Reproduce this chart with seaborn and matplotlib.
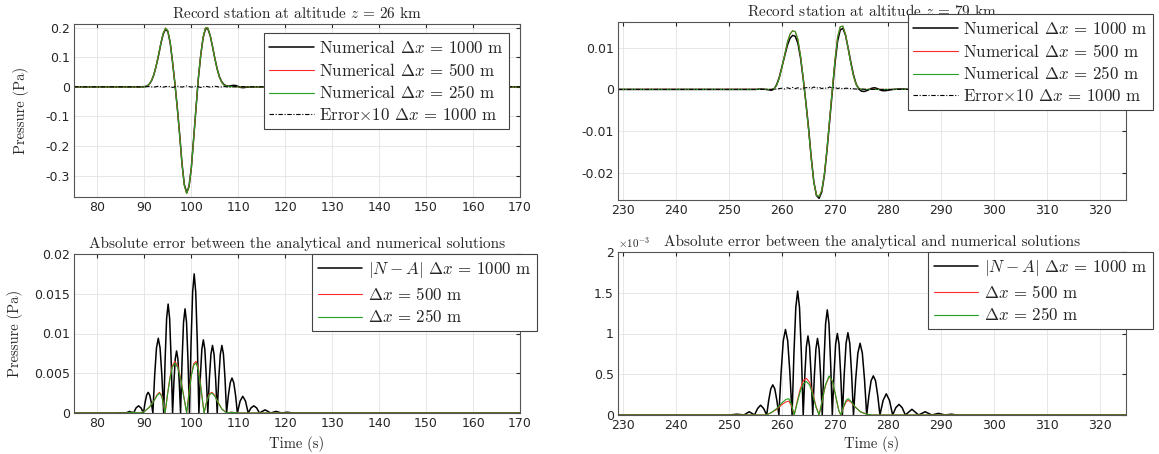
import matplotlib
matplotlib.use("Agg")
import matplotlib.pyplot as plt
from matplotlib.ticker import FuncFormatter
import seaborn as sns

# --- station z = 26 km, pressure records ---
p26_t = [75, 88, 89, 90, 90.5, 91, 91.5, 92, 92.5, 93, 93.5, 94, 94.5, 95, 95.5, 96, 96.5,
         97, 97.5, 98, 98.5, 99, 99.5, 100, 100.5, 101, 101.5, 102, 102.5, 103, 103.5, 104,
         104.5, 105, 105.5, 106, 106.5, 107, 107.5, 108, 108.5, 109, 109.5, 110, 110.5, 111,
         111.5, 112, 113, 170]
p26_dx1000 = [0, 0, 0, 0.0005, 0.002, 0.008, 0.02, 0.04, 0.07, 0.105, 0.145, 0.178, 0.195,
              0.186, 0.147, 0.082, 0.01, -0.07, -0.16, -0.258, -0.33, -0.357, -0.336, -0.272,
              -0.172, -0.07, 0.03, 0.107, 0.165, 0.196, 0.196, 0.173, 0.136, 0.096, 0.06, 0.033,
              0.016, 0.007, 0.003, 0.002, 0.004, 0.005, 0.004, 0.001, -0.002, -0.003, -0.002,
              -0.001, 0, 0]
p26_fine = [0, 0, 0, 0.0005, 0.002, 0.008, 0.021, 0.041, 0.071, 0.107, 0.148, 0.181, 0.198,
            0.189, 0.149, 0.083, 0.01, -0.071, -0.162, -0.26, -0.333, -0.36, -0.338, -0.273,
            -0.172, -0.069, 0.032, 0.109, 0.168, 0.199, 0.199, 0.175, 0.137, 0.096, 0.059, 0.031,
            0.014, 0.005, 0.002, 0.001, 0.001, 0.001, 0, 0, 0, 0, 0, 0, 0, 0]
e26_t = [75, 90, 91, 92, 93, 94, 95, 96, 97, 98, 99, 100, 101, 102, 103, 104, 105, 106, 107,
         108, 110, 112, 170]
e26_x10 = [0, 0, 0.001, -0.001, 0.002, -0.001, 0.002, -0.002, 0.002, -0.001, 0.003, -0.001,
           0.002, -0.002, 0.002, -0.001, 0.002, -0.001, 0.001, -0.001, 0.001, 0, 0]

# --- station z = 79 km, pressure records ---
p79_t = [229, 255, 256, 257, 257.5, 258, 258.5, 259, 259.5, 260, 260.5, 261, 261.5, 262, 262.5,
         263, 263.5, 264, 264.5, 265, 265.5, 266, 266.5, 267, 267.5, 268, 268.5, 269, 269.5,
         270, 270.5, 271, 271.5, 272, 272.5, 273, 273.5, 274, 274.5, 275, 275.5, 276, 276.5,
         277, 277.5, 278, 278.5, 279, 279.5, 280, 281, 282, 283, 284, 325]
p79_dx1000 = [0, 0, 0.0001, 0, -0.0001, -0.0002, 0.0001, 0.0012, 0.003, 0.0055, 0.008, 0.0105,
              0.0122, 0.0129, 0.0127, 0.011, 0.0075, 0.0025, -0.003, -0.009, -0.016, -0.022,
              -0.0253, -0.026, -0.0245, -0.0205, -0.0145, -0.0075, -0.0005, 0.0062, 0.0115,
              0.0142, 0.0146, 0.0129, 0.0098, 0.0065, 0.0035, 0.0013, 0.0001, -0.0004, -0.0005,
              -0.0003, 0, 0.0003, 0.0004, 0.0002, -0.0001, -0.0003, -0.0003, -0.0002, 0, 0.0001,
              0.0001, 0, 0]
p79_fine = [0, 0, 0, 0, 0, 0, 0.0002, 0.001, 0.0028, 0.0054, 0.0083, 0.0112, 0.0132, 0.014,
            0.0138, 0.0119, 0.008, 0.0027, -0.0032, -0.0095, -0.0163, -0.0221, -0.0252, -0.0256,
            -0.0241, -0.0202, -0.0141, -0.007, 0.0001, 0.007, 0.0125, 0.015, 0.0151, 0.0131,
            0.0098, 0.0062, 0.0032, 0.0012, 0.0003, 0, 0, 0, 0, 0, 0, 0, 0, 0, 0, 0, 0, 0, 0,
            0, 0]
e79_t = [229, 258, 259, 260, 260.5, 261, 261.5, 262, 262.5, 263, 263.5, 264, 265, 265.5, 266,
         266.5, 267, 267.5, 268, 268.5, 269, 269.5, 270, 270.5, 271, 271.5, 272, 273, 274, 275,
         276, 325]
e79_x10 = [0, 0, 0.0001, 0.0003, 0.0001, 0.0004, 0.0002, 0.0005, 0.0002, 0.0004, 0.0001, 0.0003,
           0.0005, 0.0002, 0.0006, 0.0003, 0.0005, 0.0002, 0.0004, 0.0002, 0.0006, 0.0003,
           0.0005, 0.0002, 0.0004, 0.0001, 0.0003, 0.0002, 0.0001, 0.0001, 0, 0]

# --- absolute error |N - A|, z = 26 km ---
a26_t = [75, 84, 85, 86, 86.85, 87.7,
         88.22, 88.75, 89.28, 89.8,
         90.13, 90.47, 90.8, 91.13, 91.47, 91.8,
         92.18, 92.57, 92.95, 93.33, 93.72, 94.1,
         94.42, 94.73, 95.05, 95.37, 95.68, 96.0,
         96.28, 96.57, 96.85, 97.13, 97.42, 97.7,
         98.02, 98.33, 98.65, 98.97, 99.28, 99.6,
         99.93, 100.27, 100.6, 100.93, 101.27, 101.6,
         101.92, 102.23, 102.55, 102.87, 103.18, 103.5,
         103.83, 104.17, 104.5, 104.83, 105.17, 105.5,
         105.83, 106.17, 106.5, 106.83, 107.17, 107.5,
         107.88, 108.27, 108.65, 109.03, 109.42, 109.8,
         110.38, 110.95, 111.53, 112.1,
         112.7, 113.3, 113.9, 114.5,
         115.7, 116.9, 118.05, 119.2, 120.4, 121.6, 170]
a26_dx1000 = [0, 0, 0.00003, 0, 0.0002, 0,
              0.00064, 0.0009, 0.00064, 0,
              0.0013, 0.00225, 0.0026, 0.00225, 0.0013, 0,
              0.0047, 0.0082, 0.0094, 0.0082, 0.0047, 0,
              0.0069, 0.0119, 0.0137, 0.0119, 0.0069, 0,
              0.0039, 0.0068, 0.0078, 0.0068, 0.0039, 0,
              0.0066, 0.0114, 0.0131, 0.0114, 0.0066, 0,
              0.0088, 0.0152, 0.0175, 0.0152, 0.0088, 0,
              0.0046, 0.008, 0.0092, 0.008, 0.0046, 0,
              0.0043, 0.0074, 0.0085, 0.0074, 0.0043, 0,
              0.0043, 0.0074, 0.0085, 0.0074, 0.0043, 0,
              0.0022, 0.0038, 0.0044, 0.0038, 0.0022, 0,
              0.0015, 0.0021, 0.0015, 0,
              0.00064, 0.0009, 0.00064, 0,
              0.0004, 0, 0.0002, 0, 0.0001, 0, 0]
a26_tf = [75, 86, 87.5, 89, 90, 91, 92, 92.7, 93.2, 93.7, 94.4,
          94.9, 95.4, 95.9, 96.5, 97.1, 97.7, 98.3, 99.0,
          99.5, 100.0, 100.5, 101.0, 101.5, 102.0, 102.7,
          103.2, 103.8, 104.4, 105.0, 105.7, 106.5, 107.5, 108.5, 110, 170]
a26_dx500 = [0, 0, 0.0001, 0, 0.0002, 0.0007, 0.0015, 0.0023, 0.0026, 0.0022, 0,
             0.0023, 0.0043, 0.0059, 0.0065, 0.0059, 0.0044, 0.0024, 0,
             0.0026, 0.0048, 0.0062, 0.0065, 0.0056, 0.0034, 0,
             0.0013, 0.0024, 0.0026, 0.0022, 0.0013, 0.0005, 0, 0.0001, 0, 0]
a26_dx250 = [0, 0, 0.0001, 0, 0.0002, 0.0007, 0.0015, 0.0022, 0.0025, 0.0021, 0,
             0.0022, 0.0042, 0.0057, 0.0063, 0.0057, 0.0043, 0.0023, 0,
             0.0025, 0.0047, 0.006, 0.0063, 0.0054, 0.0033, 0,
             0.0013, 0.0023, 0.0025, 0.0021, 0.0013, 0.0005, 0, 0.0001, 0, 0]

# --- absolute error |N - A|, z = 79 km ---
a79_t = [229, 250, 251.5, 252.8, 253.8, 254.8,
         255.38, 255.95, 256.52, 257.1,
         257.48, 257.87, 258.25, 258.63, 259.02, 259.4,
         259.82, 260.23, 260.65, 261.07, 261.48, 261.9,
         262.25, 262.6, 262.95, 263.3, 263.65, 264.0,
         264.3, 264.6, 264.9, 265.2, 265.5, 265.8,
         266.1, 266.4, 266.7, 267.0, 267.3, 267.6,
         267.92, 268.23, 268.55, 268.87, 269.18, 269.5,
         269.82, 270.13, 270.45, 270.77, 271.08, 271.4,
         271.75, 272.1, 272.45, 272.8, 273.15, 273.5,
         273.92, 274.33, 274.75, 275.17, 275.58, 276.0,
         276.42, 276.83, 277.25, 277.67, 278.08, 278.5,
         279.1, 279.7, 280.3, 280.9,
         281.5, 282.1, 282.7, 283.3,
         284.55, 285.8, 287.05, 288.3, 289.55, 290.8, 292, 293, 325]
a79_dx1000 = [0, 0, 0.00001, 0, 0.00004, 0,
              0.00008, 0.00012, 0.00008, 0,
              0.00018, 0.00032, 0.00037, 0.00032, 0.00018, 0,
              0.00052, 0.00091, 0.00105, 0.00091, 0.00052, 0,
              0.00076, 0.00132, 0.00152, 0.00132, 0.00076, 0,
              0.00048, 0.00084, 0.00097, 0.00084, 0.00048, 0,
              0.00047, 0.00081, 0.00094, 0.00081, 0.00047, 0,
              0.00064, 0.00112, 0.00129, 0.00112, 0.00064, 0,
              0.0005, 0.00087, 0.001, 0.00087, 0.0005, 0,
              0.0005, 0.00088, 0.00101, 0.00088, 0.0005, 0,
              0.00044, 0.00076, 0.00088, 0.00076, 0.00044, 0,
              0.00024, 0.00042, 0.00048, 0.00042, 0.00024, 0,
              0.00018, 0.00026, 0.00018, 0,
              0.00009, 0.00013, 0.00009, 0,
              0.00007, 0, 0.00004, 0, 0.00002, 0, 0.00001, 0, 0]
a79_tf = [229, 257, 258, 259, 260, 260.7, 261.3, 261.8, 262.3,
          262.8, 263.4, 264.0, 264.6, 265.2, 265.8, 266.4, 267.0,
          267.6, 268.2, 268.9, 269.5, 270.1, 270.7, 271.1,
          271.6, 272.1, 272.5, 273.0, 273.8, 274.8, 276, 277, 325]
a79_dx500 = [0, 0, 0.00003, 0.00007, 0.00013, 0.00016, 0.00017, 0.00011, 0,
             0.00015, 0.00031, 0.00042, 0.00045, 0.0004, 0.00027, 0.00011, 0,
             0.00018, 0.00036, 0.00047, 0.00042, 0.00024, 0.00006, 0,
             0.00009, 0.00016, 0.00018, 0.00016, 0.0001, 0.00004, 0.00001, 0, 0]
a79_dx250 = [0, 0, 0.00003, 0.00008, 0.00015, 0.00019, 0.0002, 0.00013, 0,
             0.00013, 0.00028, 0.00038, 0.00041, 0.00037, 0.00025, 0.0001, 0,
             0.00018, 0.00037, 0.00048, 0.00042, 0.00025, 0.00006, 0,
             0.0001, 0.00018, 0.0002, 0.00017, 0.0001, 0.00004, 0.00001, 0, 0]

left_xticks = [80, 90, 100, 110, 120, 130, 140, 150, 160, 170]
right_xticks = [230, 240, 250, 260, 270, 280, 290, 300, 310, 320]

BLACK = "#000000"
RED = "#ff2a2a"
GREEN = "#22a022"
SERIF = "cmr10"

sns.set_style("whitegrid")
plt.rcParams["font.family"] = ["DejaVu Sans"]
plt.rcParams["mathtext.fontset"] = "cm"
plt.rcParams["axes.unicode_minus"] = False
plt.rcParams["axes.formatter.use_mathtext"] = False


def line(ax, t, y, color, lw, **kw):
    sns.lineplot(x=t, y=y, ax=ax, color=color, linewidth=lw,
                 estimator=None, sort=False, **kw)


def style_axes(ax, xlim, xticks, ylim, yticks, yfmt):
    ax.set_xlim(*xlim)
    ax.set_ylim(*ylim)
    ax.set_xticks(xticks)
    ax.set_yticks(yticks)
    ax.yaxis.set_major_formatter(FuncFormatter(yfmt))
    ax.xaxis.set_major_formatter(FuncFormatter(lambda v, p: f"{v:g}"))
    ax.tick_params(labelsize=9, direction="in", length=3, top=True, right=True,
                   colors="#262626", pad=3)
    ax.grid(True, color="#e3e3e3", linewidth=0.6)
    for s in ax.spines.values():
        s.set_color("#555555")
        s.set_linewidth(0.8)
    ax.set_facecolor("white")
    ax.set_xlabel("")
    ax.set_ylabel("")


def legend(ax, fig, labels, corner):
    handles = ax.get_lines()[:len(labels)]
    lg = ax.legend(handles, labels, loc="upper right", bbox_to_anchor=corner,
                   bbox_transform=fig.transFigure, borderaxespad=0, fancybox=False,
                   framealpha=1, edgecolor="#444444",
                   prop={"family": SERIF, "size": 12.2}, handlelength=2.6,
                   handletextpad=0.3, labelspacing=0.34, borderpad=0.35)
    lg.get_frame().set_linewidth(0.8)
    lg.set_zorder(10)


W, H = 1159, 454
fig = plt.figure(figsize=(W / 100, H / 100), dpi=100)


def box(x0, y0, x1, y1):
    return [x0 / W, 1 - y1 / H, (x1 - x0) / W, (y1 - y0) / H]


ax_tl = fig.add_axes(box(74, 24, 520, 197))
ax_tr = fig.add_axes(box(618, 22, 1126, 200))
ax_bl = fig.add_axes(box(74, 254, 520, 413))
ax_br = fig.add_axes(box(618, 252, 1126, 415))

gfmt = lambda v, p: f"{v:g}"
DASHDOT = (4, 1.5, 1, 1.5)
TITLE_KW = dict(fontfamily=SERIF, fontsize=11, pad=4)
num_labels = [r"Numerical $\Delta x \,=\, 1000$ m", r"Numerical $\Delta x \,=\, 500$ m",
              r"Numerical $\Delta x \,=\, 250$ m", r"Error$\times$10 $\Delta x \,=\, 1000$ m"]
err_labels = [r"$|N - A|$ $\Delta x \,=\, 1000$ m", r"$\Delta x \,=\, 500$ m",
              r"$\Delta x \,=\, 250$ m"]

# top left
line(ax_tl, p26_t, p26_dx1000, BLACK, 1.1)
line(ax_tl, p26_t, p26_fine, RED, 0.8)
line(ax_tl, p26_t, p26_fine, GREEN, 0.8)
line(ax_tl, e26_t, e26_x10, BLACK, 0.8, dashes=DASHDOT)
style_axes(ax_tl, (75, 170), left_xticks, (-0.372, 0.212),
           [-0.3, -0.2, -0.1, 0, 0.1, 0.2], gfmt)
ax_tl.set_title(r"Record station at altitude $z \,=\, 26$ km", **TITLE_KW)
ax_tl.set_ylabel("Pressure (Pa)", fontfamily=SERIF, fontsize=10.5)
ax_tl.yaxis.set_label_coords(-0.102, 0.5)
legend(ax_tl, fig, num_labels, (509 / W, 1 - 33 / H))

# top right
line(ax_tr, p79_t, p79_dx1000, BLACK, 1.1)
line(ax_tr, p79_t, p79_fine, RED, 0.8)
line(ax_tr, p79_t, p79_fine, GREEN, 0.8)
line(ax_tr, e79_t, e79_x10, BLACK, 0.8, dashes=DASHDOT)
style_axes(ax_tr, (229, 325), right_xticks, (-0.0264, 0.0161),
           [-0.02, -0.01, 0, 0.01], gfmt)
ax_tr.set_title(r"Record station at altitude $z \,=\, 79$ km", **TITLE_KW)
legend(ax_tr, fig, num_labels, (1153 / W, 1 - 14 / H))

# bottom left
line(ax_bl, a26_t, a26_dx1000, BLACK, 1.1)
line(ax_bl, a26_tf, a26_dx500, RED, 0.8)
line(ax_bl, a26_tf, a26_dx250, GREEN, 0.8)
style_axes(ax_bl, (75, 170), left_xticks, (0, 0.02),
           [0, 0.005, 0.01, 0.015, 0.02], gfmt)
ax_bl.set_title("Absolute error between the analytical and numerical solutions", **TITLE_KW)
ax_bl.set_ylabel("Pressure (Pa)", fontfamily=SERIF, fontsize=10.5)
ax_bl.yaxis.set_label_coords(-0.114, 0.5)
ax_bl.set_xlabel("Time (s)", fontfamily=SERIF, fontsize=10.5)
ax_bl.xaxis.set_label_coords(0.5, -0.145)
legend(ax_bl, fig, err_labels, (537 / W, 1 - 254 / H))

# bottom right
line(ax_br, a79_t, a79_dx1000, BLACK, 1.1)
line(ax_br, a79_tf, a79_dx500, RED, 0.8)
line(ax_br, a79_tf, a79_dx250, GREEN, 0.8)
style_axes(ax_br, (229, 325), right_xticks, (0, 0.002),
           [0, 0.0005, 0.001, 0.0015, 0.002], lambda v, p: f"{v * 1e3:g}")
ax_br.set_title("Absolute error between the analytical and numerical solutions", **TITLE_KW)
ax_br.set_xlabel("Time (s)", fontfamily=SERIF, fontsize=10.5)
ax_br.xaxis.set_label_coords(0.5, -0.13)
ax_br.text(0.0, 1.012, r"$\times\mathsf{10^{-3}}$", transform=ax_br.transAxes,
           fontsize=8, color="#262626", ha="left", va="bottom")
legend(ax_br, fig, err_labels, (1153 / W, 1 - 252 / H))

fig.savefig("out.png", dpi=100)
